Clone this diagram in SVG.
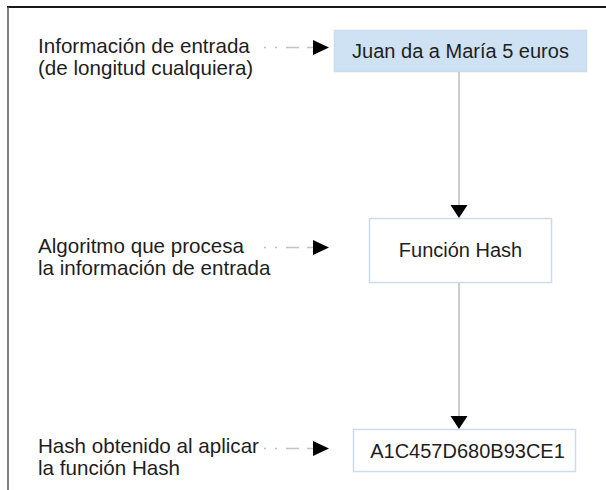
<svg xmlns="http://www.w3.org/2000/svg" width="606" height="490" viewBox="0 0 606 490">
<defs>
<style>
text{font-family:"Liberation Sans",Arial,sans-serif;font-size:20px;fill:#1e1e1e}
.lbl{font-size:20.6px}
.box{stroke:#cadced;stroke-width:1.5}
.c{text-anchor:middle}
.flow{stroke:#bdbdbd;stroke-width:1.5;fill:none}
.dash{stroke:#c4c4c4;stroke-width:1.5;fill:none;stroke-dasharray:2 9 2 9 13 8 6 40}
.head{fill:#000}
</style>
</defs>
<rect width="606" height="490" fill="#fff"/>
<g id="frame">
<line x1="7" y1="7" x2="606" y2="7" stroke="#1a1a1a" stroke-width="2"/>
<line x1="8" y1="7" x2="8" y2="490" stroke="#555" stroke-width="1.5"/>
</g>
<g id="label-entrada">
<text class="lbl" x="38" y="53">Información de entrada</text>
<text class="lbl" x="38" y="75">(de longitud cualquiera)</text>
</g>
<g id="label-algoritmo">
<text class="lbl" x="38" y="253">Algoritmo que procesa</text>
<text class="lbl" x="38" y="275">la información de entrada</text>
</g>
<g id="label-hash">
<text class="lbl" x="38" y="453">Hash obtenido al aplicar</text>
<text class="lbl" x="38" y="475">la función Hash</text>
</g>
<g id="node-input">
<rect class="box" x="334.5" y="30.5" width="252" height="41" fill="#cfe2f3"/>
<text class="c" x="460.5" y="58" font-size="20.3">Juan da a María 5 euros</text>
</g>
<g id="node-hashfn">
<rect class="box" x="369.5" y="218.5" width="182" height="64" fill="#fff"/>
<text class="c" x="460.5" y="257">Función Hash</text>
</g>
<g id="node-output">
<rect class="box" x="353.5" y="429.5" width="222" height="42" fill="#fff"/>
<text class="c" x="467.5" y="458" font-size="21.2">A1C457D680B93CE1</text>
</g>
<g id="connectors">
<line class="flow" x1="459" y1="72" x2="459" y2="206"/>
<polygon class="head" points="450.5,205 467.5,205 459,218"/>
<line class="flow" x1="459" y1="283" x2="459" y2="417"/>
<polygon class="head" points="450.5,416 467.5,416 459,429"/>
<line class="dash" x1="264" y1="47.5" x2="314" y2="47.5"/>
<polygon class="head" points="313,40 313,55 329,47.5"/>
<line class="dash" x1="264" y1="247.5" x2="314" y2="247.5"/>
<polygon class="head" points="313,240 313,255 329,247.5"/>
<line class="dash" x1="264" y1="448.5" x2="314" y2="448.5"/>
<polygon class="head" points="313,441 313,456 329,448.5"/>
</g>
</svg>
